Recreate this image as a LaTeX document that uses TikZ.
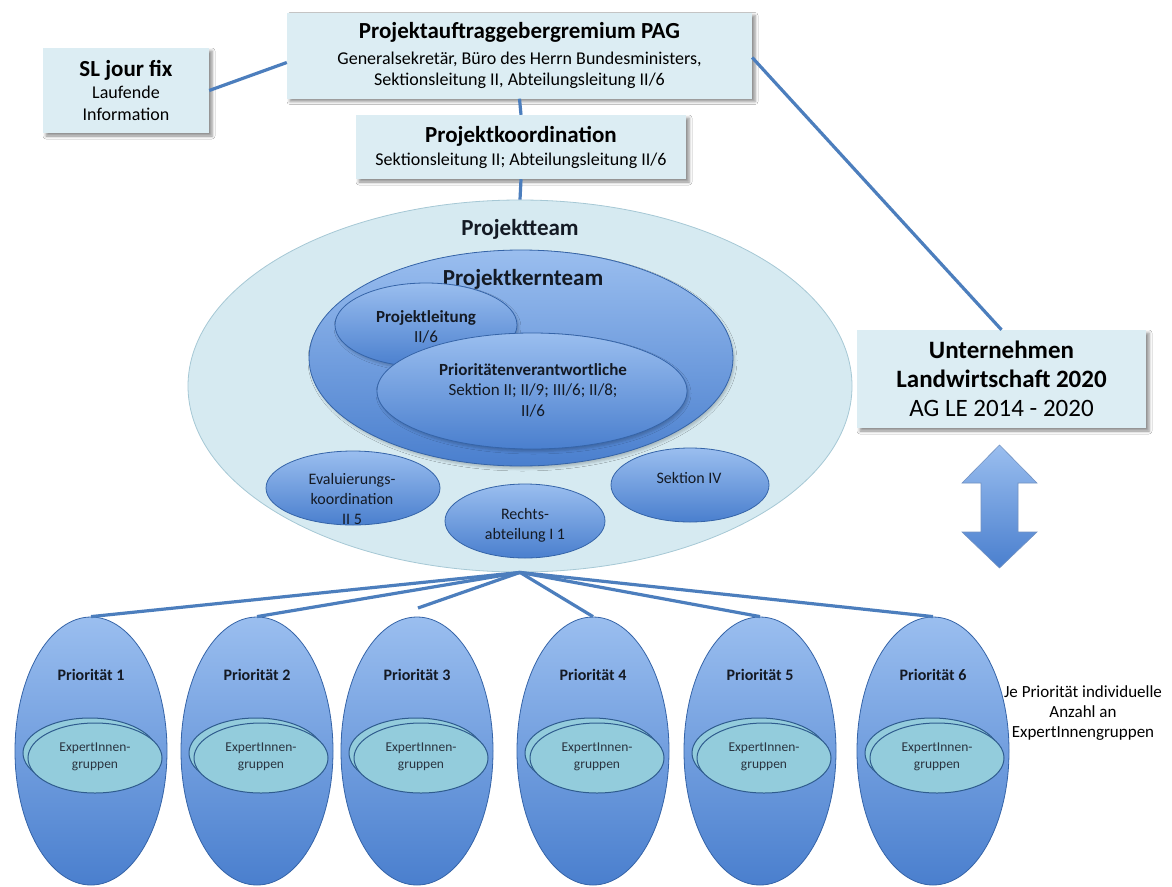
\documentclass[tikz,border=0pt]{standalone}
\usepackage{fontspec}
\setmainfont{Carlito}
\usetikzlibrary{shapes.geometric,shadows.blur}

\definecolor{boxfill}{HTML}{DCEDF3}
\definecolor{teamfill}{HTML}{D6EAF1}
\definecolor{teamedge}{HTML}{A6C8D5}
\definecolor{bluetop}{HTML}{9ABEEF}
\definecolor{bluebot}{HTML}{4A7FCE}
\definecolor{blueedge}{HTML}{3564A8}
\definecolor{expfill}{HTML}{93CCDC}
\definecolor{expedge}{HTML}{2F5C8E}
\definecolor{linkblue}{HTML}{4C7EBD}
\definecolor{inktext}{HTML}{141A24}
\definecolor{exptext}{HTML}{2A3440}

\tikzset{
  infobox/.style={rectangle, fill=boxfill, inner sep=0pt, align=center, text=black,
    blur shadow={shadow xshift=3pt, shadow yshift=-3pt, shadow blur radius=3pt, shadow opacity=45}},
  teamoval/.style={ellipse, fill=teamfill, draw=teamedge, line width=0.8pt, inner sep=0pt},
  blueoval/.style={ellipse, top color=bluetop, bottom color=bluebot, draw=blueedge,
    line width=0.8pt, inner sep=0pt},
  softshadow/.style={blur shadow={shadow xshift=1.5pt, shadow yshift=-2.5pt,
    shadow blur radius=2.5pt, shadow opacity=22}},
  expoval/.style={ellipse, fill=expfill, draw=expedge, line width=1pt, inner sep=0pt,
    minimum width=134pt, minimum height=70pt},
  link/.style={draw=linkblue, line width=3.2pt},
  lbl/.style={align=center, text=inktext, inner sep=0pt},
  titlefont/.style={font=\fontsize{23}{27}\selectfont\bfseries},
  ovalfont/.style={font=\fontsize{17}{20.5}\selectfont},
  smallfont/.style={font=\fontsize{16}{20}\selectfont},
}

\begin{document}
\begin{tikzpicture}[x=1pt,y=-1pt]
\useasboundingbox (0,0) rectangle (1172,886);
\fill[white] (0,0) rectangle (1172,886);

% project team with its inner groups
\node[teamoval, minimum width=664pt, minimum height=372pt] (team) at (520,386) {};
\node[lbl, titlefont] (teamlbl) at (520,229) {Projektteam};

\node[blueoval, softshadow, minimum width=424pt, minimum height=216pt] (kern) at (521,358) {};
\node[lbl, titlefont] (kernlbl) at (523,279) {Projektkernteam};

\node[blueoval, softshadow, minimum width=182pt, minimum height=84pt] (leit) at (426,325) {};
\node[lbl, ovalfont] (leitlbl) at (426,327) {\textbf{Projektleitung}\\II/6};

\node[blueoval, softshadow, minimum width=310pt, minimum height=116pt] (prio) at (532,391) {};
\node[lbl, ovalfont] (priolbl) at (533,390) {\textbf{Prioritätenverantwortliche}\\Sektion II; II/9; III/6; II/8;\\II/6};

\node[blueoval, minimum width=174pt, minimum height=74pt] (eval) at (353,488) {};
\node[lbl, smallfont] (evallbl) at (352,499) {Evaluierungs-\\koordination\\II 5};

\node[blueoval, minimum width=160pt, minimum height=74pt] (recht) at (525,521) {};
\node[lbl, smallfont] (rechtlbl) at (525,525) {Rechts-\\abteilung I 1};

\node[blueoval, minimum width=158pt, minimum height=74pt] (sek) at (690,485) {};
\node[lbl, smallfont] (seklbl) at (689,478) {Sektion IV};

% boxes
\node[infobox, minimum width=465pt, minimum height=86pt, font=\fontsize{18}{21}\selectfont] (pag) at (519.5,55.5)
  {{\fontsize{23}{27}\selectfont\bfseries Projektauftraggebergremium PAG}\\[5pt]Generalsekretär, Büro des Herrn Bundesministers,\\Sektionsleitung II, Abteilungsleitung II/6};
\node[infobox, minimum width=166pt, minimum height=85pt, font=\fontsize{18}{22}\selectfont] (sl) at (126,90.5)
  {{\fontsize{23}{27}\selectfont\bfseries SL jour fix}\\Laufende\\Information};
\node[infobox, minimum width=330pt, minimum height=64pt, font=\fontsize{18}{21}\selectfont] (koord) at (521,147)
  {{\fontsize{23}{27}\selectfont\bfseries Projektkoordination}\\[2pt]Sektionsleitung II; Abteilungsleitung II/6};
\node[infobox, minimum width=289pt, minimum height=98pt, font=\fontsize{25}{29}\selectfont] (unt) at (1001.5,379)
  {\textbf{Unternehmen}\\\textbf{Landwirtschaft 2020}\\AG LE 2014 - 2020};

% two-way exchange arrow
\path[top color=bluetop, bottom color=bluebot, draw=blueedge!70, line width=0.6pt]
  (999.5,445) -- (1037,483) -- (1018,483) -- (1018,532) -- (1037,532) -- (999.5,568)
  -- (962,532) -- (981,532) -- (981,483) -- (962,483) -- cycle;

% connectors between the boxes
\draw[link] (sl.east) -- ([yshift=-7pt]pag.west);
\draw[link] (pag.south) -- (koord.north);
\draw[link] (koord.south) -- (team.north);
\draw[link] ([yshift=-2pt]pag.east) -- (unt.north);

% priority groups
\foreach \i/\x in {1/91,2/257,3/417,4/593,5/760,6/933}{
  \node[blueoval, minimum width=152pt, minimum height=268pt] (p\i) at (\x,751) {};
  \node[lbl, font=\fontsize{16}{19}\selectfont\bfseries] (p\i-lbl) at (\x,675) {Priorität \i};
  \node[expoval] (e\i-back) at (\x-1,753) {};
  \node[expoval] (e\i) at (\x+4,758) {};
  \node[lbl, text=exptext, font=\fontsize{13.5}{17}\selectfont] (e\i-lbl) at (\x+4,757) {ExpertInnen-\\gruppen};
}

\coordinate (p3end) at (418,608);
\foreach \t in {p1.north,p2.north,p3end,p4.north,p5.north,p6.north}
  \draw[link] (team.south) -- (\t);

\node[lbl, text=black, font=\fontsize{17}{20}\selectfont] (note) at (1083,713)
  {Je Priorität individuelle\\Anzahl an\\ExpertInnengruppen};
\end{tikzpicture}
\end{document}
